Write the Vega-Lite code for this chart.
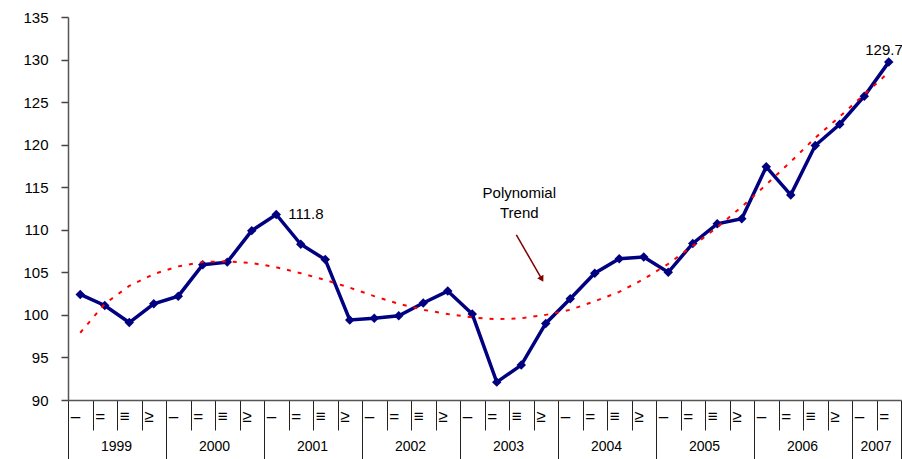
{
  "$schema": "https://vega.github.io/schema/vega-lite/v6.json",
  "autosize": "none",
  "width": 833,
  "height": 383,
  "padding": {"left": 68, "top": 17, "right": 1, "bottom": 59},
  "config": {
    "view": {"stroke": null},
    "axis": {"grid": false, "labelFont": "Liberation Sans", "labelColor": "#000", "domainColor": "#555", "tickColor": "#444", "domainWidth": 1.5}
  },
  "datasets": {
    "quarters": [
      {"i": 0, "year": 1999, "quarter": "I", "value": 102.4, "trend": 97.9},
      {"i": 1, "year": 1999, "quarter": "II", "value": 101.1, "trend": 101.3},
      {"i": 2, "year": 1999, "quarter": "III", "value": 99.1, "trend": 103.4},
      {"i": 3, "year": 1999, "quarter": "IV", "value": 101.3, "trend": 104.8},
      {"i": 4, "year": 2000, "quarter": "I", "value": 102.2, "trend": 105.7},
      {"i": 5, "year": 2000, "quarter": "II", "value": 105.9, "trend": 106.2},
      {"i": 6, "year": 2000, "quarter": "III", "value": 106.2, "trend": 106.3},
      {"i": 7, "year": 2000, "quarter": "IV", "value": 109.9, "trend": 106.1},
      {"i": 8, "year": 2001, "quarter": "I", "value": 111.8, "trend": 105.6},
      {"i": 9, "year": 2001, "quarter": "II", "value": 108.3, "trend": 104.9},
      {"i": 10, "year": 2001, "quarter": "III", "value": 106.5, "trend": 104.1},
      {"i": 11, "year": 2001, "quarter": "IV", "value": 99.4, "trend": 103.2},
      {"i": 12, "year": 2002, "quarter": "I", "value": 99.6, "trend": 102.2},
      {"i": 13, "year": 2002, "quarter": "II", "value": 99.9, "trend": 101.3},
      {"i": 14, "year": 2002, "quarter": "III", "value": 101.4, "trend": 100.6},
      {"i": 15, "year": 2002, "quarter": "IV", "value": 102.8, "trend": 100.1},
      {"i": 16, "year": 2003, "quarter": "I", "value": 100.1, "trend": 99.7},
      {"i": 17, "year": 2003, "quarter": "II", "value": 92.1, "trend": 99.5},
      {"i": 18, "year": 2003, "quarter": "III", "value": 94.1, "trend": 99.6},
      {"i": 19, "year": 2003, "quarter": "IV", "value": 99.0, "trend": 100.0},
      {"i": 20, "year": 2004, "quarter": "I", "value": 101.9, "trend": 100.6},
      {"i": 21, "year": 2004, "quarter": "II", "value": 104.9, "trend": 101.6},
      {"i": 22, "year": 2004, "quarter": "III", "value": 106.6, "trend": 102.7},
      {"i": 23, "year": 2004, "quarter": "IV", "value": 106.8, "trend": 104.2},
      {"i": 24, "year": 2005, "quarter": "I", "value": 105.0, "trend": 106.0},
      {"i": 25, "year": 2005, "quarter": "II", "value": 108.4, "trend": 108.1},
      {"i": 26, "year": 2005, "quarter": "III", "value": 110.7, "trend": 110.3},
      {"i": 27, "year": 2005, "quarter": "IV", "value": 111.3, "trend": 112.7},
      {"i": 28, "year": 2006, "quarter": "I", "value": 117.4, "trend": 115.3},
      {"i": 29, "year": 2006, "quarter": "II", "value": 114.1, "trend": 118.0},
      {"i": 30, "year": 2006, "quarter": "III", "value": 119.9, "trend": 120.8},
      {"i": 31, "year": 2006, "quarter": "IV", "value": 122.4, "trend": 123.3},
      {"i": 32, "year": 2007, "quarter": "I", "value": 125.7, "trend": 125.9},
      {"i": 33, "year": 2007, "quarter": "II", "value": 129.7, "trend": 128.5}
    ],
    "notes": [
      {"x": 17.92, "y": 114.35, "label": "Polynomial\nTrend", "ax": 17.8, "ay": 109.4, "bx": 18.84, "by": 104.2}
    ]
  },
  "layer": [
    {
      "data": {"name": "quarters"},
      "mark": {"type": "line", "color": "#000080", "strokeWidth": 3.5, "point": {"shape": "diamond", "filled": true, "size": 90, "color": "#000080"}},
      "encoding": {
        "x": {
          "field": "i", "type": "quantitative",
          "scale": {"domain": [-0.5, 33.5], "nice": false, "zero": false},
          "axis": {
            "title": null,
            "values": [-0.5,0,0.5,1,1.5,2,2.5,3,3.5,4,4.5,5,5.5,6,6.5,7,7.5,8,8.5,9,9.5,10,10.5,11,11.5,12,12.5,13,13.5,14,14.5,15,15.5,16,16.5,17,17.5,18,18.5,19,19.5,20,20.5,21,21.5,22,22.5,23,23.5,24,24.5,25,25.5,26,26.5,27,27.5,28,28.5,29,29.5,30,30.5,31,31.5,32,32.5,33,33.5],
            "tickCount": 200,
            "labelExpr": "datum.value % 1 === 0 ? ['–','=','≡','≥'][datum.value % 4] : (datum.value === 32.5 ? '2007' : (((datum.value - 1.5) % 4 === 0 && datum.value < 31) ? '' + (1999 + (datum.value - 1.5) / 4) : ''))",
            "labelOverlap": false,
            "labelFlush": false,
            "labelBound": false,
            "labelBaseline": "middle",
            "labelAlign": {"condition": {"test": "datum.value % 1 === 0", "value": "left"}, "value": "center"},
            "labelFontSize": {"condition": {"test": "datum.value % 1 === 0", "value": 17}, "value": 14},
            "labelOffset": {"condition": {"test": "datum.value % 1 === 0", "value": -10}, "value": -1},
            "labelPadding": {"condition": {"test": "datum.value % 1 === 0", "value": 16}, "value": 16},
            "tickSize": {"condition": [{"test": "datum.value % 1 === 0", "value": 0}, {"test": "(datum.value + 0.5) % 4 === 0 || datum.value === 33.5", "value": 59}], "value": 30},
            "tickOpacity": {"condition": {"test": "datum.value % 1 === 0", "value": 0}, "value": 1},
            "tickWidth": 1,
            "tickColor": "#222"
          }
        },
        "y": {
          "field": "value", "type": "quantitative",
          "scale": {"domain": [90, 135], "nice": false, "zero": false},
          "axis": {"title": null, "values": [90,95,100,105,110,115,120,125,130,135], "tickSize": 7, "labelPadding": 13, "labelFontSize": 15, "tickWidth": 1.5}
        }
      }
    },
    {
      "data": {"name": "quarters"},
      "transform": [{"filter": "datum.i === 8"}],
      "mark": {"type": "text", "align": "left", "baseline": "middle", "dx": 12, "dy": 0, "font": "Liberation Sans", "fontSize": 15, "color": "#000"},
      "encoding": {
        "x": {"field": "i", "type": "quantitative"},
        "y": {"field": "value", "type": "quantitative"},
        "text": {"field": "value", "type": "quantitative", "format": ".1f"}
      }
    },
    {
      "data": {"name": "quarters"},
      "transform": [{"filter": "datum.i === 33"}],
      "mark": {"type": "text", "align": "right", "baseline": "middle", "dx": 14, "dy": -12, "font": "Liberation Sans", "fontSize": 15, "color": "#000"},
      "encoding": {
        "x": {"field": "i", "type": "quantitative"},
        "y": {"field": "value", "type": "quantitative"},
        "text": {"field": "value", "type": "quantitative", "format": ".1f"}
      }
    },
    {
      "data": {"name": "notes"},
      "mark": {"type": "text", "align": "center", "baseline": "middle", "lineBreak": "\n", "lineHeight": 20, "font": "Liberation Sans", "fontSize": 15, "color": "#000"},
      "encoding": {
        "x": {"field": "x", "type": "quantitative"},
        "y": {"field": "y", "type": "quantitative"},
        "text": {"field": "label"}
      }
    },
    {
      "data": {"name": "notes"},
      "mark": {"type": "rule", "color": "#800000", "strokeWidth": 1.5},
      "encoding": {
        "x": {"field": "ax", "type": "quantitative"},
        "y": {"field": "ay", "type": "quantitative"},
        "x2": {"field": "bx"},
        "y2": {"field": "by"}
      }
    },
    {
      "data": {"name": "notes"},
      "mark": {"type": "point", "shape": "triangle-down", "filled": true, "size": 50, "color": "#800000", "angle": 331, "opacity": 1},
      "encoding": {
        "x": {"field": "bx", "type": "quantitative"},
        "y": {"field": "by", "type": "quantitative"}
      }
    },
    {
      "data": {"name": "quarters"},
      "mark": {"type": "line", "color": "#ff0000", "strokeWidth": 2, "strokeDash": [4, 7]},
      "encoding": {
        "x": {"field": "i", "type": "quantitative"},
        "y": {"field": "trend", "type": "quantitative"}
      }
    }
  ]
}
